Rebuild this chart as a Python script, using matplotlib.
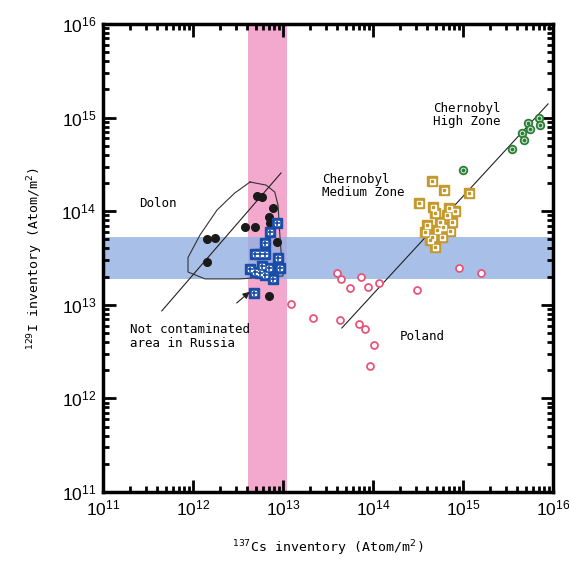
import numpy as np
import matplotlib
matplotlib.use('Agg')
import matplotlib.pyplot as plt
from matplotlib.ticker import LogLocator, NullFormatter

# Dolon (black dots)
dolon_cs = [5.1e12, 5.9e12, 7.8e12, 7.0e12, 7.2e12, 3.75e12, 4.9e12, 1.42e12, 1.77e12, 8.5e12, 1.42e12, 6.9e12]
dolon_i = [1.47e14, 1.41e14, 1.09e14, 8.7e13, 7.5e13, 6.7e13, 6.7e13, 5.0e13, 5.2e13, 4.7e13, 2.9e13, 1.24e13]

# not contaminated area in Russia (blue squares)
russia_cs = [8.5e12, 7.2e12, 6.3e12, 4.9e12, 5.5e12, 6.3e12, 8.9e12, 9.3e12, 5.9e12, 6.9e12,
             4.3e12, 4.9e12, 5.5e12, 6.3e12, 7.8e12, 4.7e12]
russia_i = [7.4e13, 6.0e13, 4.6e13, 3.5e13, 3.5e13, 3.5e13, 3.2e13, 2.5e13, 2.6e13, 2.5e13,
            2.4e13, 2.26e13, 2.17e13, 2.08e13, 1.87e13, 1.33e13]

# Poland (open pink circles)
poland_cs = [1.22e13, 2.17e13, 4.0e13, 4.4e13, 7.4e13, 5.6e13, 8.7e13, 1.17e14, 4.3e13, 6.9e13,
             8.1e13, 1.03e14, 9.3e13, 3.06e14, 9.0e14, 1.58e15]
poland_i = [1.01e13, 7.3e12, 2.17e13, 1.89e13, 2.0e13, 1.51e13, 1.56e13, 1.72e13, 6.8e12, 6.3e12,
            5.5e12, 3.75e12, 2.2e12, 1.44e13, 2.5e13, 2.19e13]

# Chernobyl medium zone (gold squares)
medium_cs = [4.5e14, 6.2e14, 3.24e14, 4.6e14, 6.9e14, 8.1e14, 1.17e15, 4.9e14, 6.6e14, 5.5e14,
             7.5e14, 3.95e14, 6.0e14, 5.1e14, 7.2e14, 3.8e14, 4.5e14, 5.9e14, 4.3e14, 4.9e14]
medium_i = [2.1e14, 1.68e14, 1.21e14, 1.12e14, 1.07e14, 1.01e14, 1.56e14, 9.5e13, 9.1e13, 7.7e13,
            7.7e13, 7.1e13, 6.8e13, 6.3e13, 6.2e13, 6.0e13, 5.3e13, 5.3e13, 4.9e13, 4.1e13]

# Chernobyl high zone (green circles)
high_cs = [7.0e15, 7.2e15, 5.2e15, 5.6e15, 4.5e15, 4.7e15, 3.5e15, 9.9e14]
high_i = [9.8e14, 8.3e14, 8.7e14, 7.6e14, 6.9e14, 5.8e14, 4.6e14, 2.75e14]

# bands, fitted lines, Dolon contour
pink_band = [4.1e12, 1.1e13]
blue_band = [1.9e13, 5.3e13]
line1_cs = [4.5e11, 9.5e12]
line1_i = [8.6e12, 2.56e14]
line2_cs = [4.5e13, 8.8e15]
line2_i = [5.65e12, 1.4e15]
contour_cs = [4.3e12, 6.5e12, 8.1e12, 8.8e12, 9.3e12, 1.0e13, 3.3e12, 1.36e12, 8.8e11, 8.8e11,
              1.2e12, 1.85e12, 2.9e12, 4.3e12]
contour_i = [2.05e14, 1.9e14, 1.6e14, 1.16e14, 4.9e13, 2.03e13, 1.89e13, 1.89e13, 2.24e13, 3.2e13,
             5.6e13, 1.03e14, 1.56e14, 2.05e14]

plt.rcParams['font.family'] = ['Liberation Sans', 'DejaVu Sans']
label_font = 'DejaVu Sans Mono'

fig = plt.figure(figsize=(5.69, 5.62), dpi=100)
ax = fig.add_axes([0.181, 0.1246, 0.791, 0.8327])
ax.set_xscale('log')
ax.set_yscale('log')
ax.set_xlim(1e11, 1e16)
ax.set_ylim(1e11, 1e16)

ax.axvspan(pink_band[0], pink_band[1], color='#f2a9cd', lw=0, zorder=0)
ax.axhspan(blue_band[0], blue_band[1], color='#92b0e2', alpha=0.8, lw=0, zorder=0.5)

ax.plot(contour_cs, contour_i, color='#333333', lw=0.8, zorder=1)
ax.plot(line1_cs, line1_i, color='#222222', lw=0.8, zorder=1)
ax.plot(line2_cs, line2_i, color='#222222', lw=0.8, zorder=1)

# Dolon
ax.plot(dolon_cs, dolon_i, 'o', color='#1a1a1a', ms=5.5, zorder=3)

# Russia: blue window squares
ax.plot(russia_cs, russia_i, 's', color='#1a4da8', ms=6.5, zorder=4)
ax.plot(russia_cs, russia_i, 's', color='white', ms=3.4, zorder=5)
ax.plot(russia_cs, russia_i, '+', color='#1a4da8', ms=3.6, mew=1.2, zorder=6)

# Poland
ax.plot(poland_cs, poland_i, 'o', mfc='white', mec='#e8557a', mew=1.3, ms=5, zorder=3)

# Chernobyl medium
ax.plot(medium_cs, medium_i, 's', color='#c49a2c', ms=6.5, zorder=3)
ax.plot(medium_cs, medium_i, 's', color='white', ms=3.6, zorder=3)
ax.plot(medium_cs, medium_i, 's', color='#c49a2c', ms=1.5, zorder=3)

# Chernobyl high
ax.plot(high_cs, high_i, 'o', mfc='#cfe8cc', mec='#2d7d3a', mew=1.3, ms=5.5, zorder=3)
ax.plot(high_cs, high_i, 'o', color='#2d7d3a', ms=1.6, zorder=3)

# arrow
ax.annotate('', xy=(4.5e12, 1.44e13), xytext=(2.9e12, 1.0e13),
            arrowprops=dict(arrowstyle='-|>', color='#222222', lw=0.8, mutation_scale=10), zorder=6)

tkw = dict(family=label_font, fontsize=9, color='black')
ax.text(2.5e11, 1.22e14, 'Dolon', va='center', ha='left', **tkw)
ax.text(4.6e14, 1.07e15, 'Chernobyl\nHigh Zone', va='center', ha='left', linespacing=1.05, **tkw)
ax.text(2.7e13, 1.86e14, 'Chernobyl\nMedium Zone', va='center', ha='left', linespacing=1.05, **tkw)
ax.text(2.0e14, 4.6e12, 'Poland', va='center', ha='left', **tkw)
ax.text(2.0e11, 4.6e12, 'Not contaminated\narea in Russia', va='center', ha='left', linespacing=1.05, **tkw)

ax.set_xlabel('$^{137}$Cs inventory (Atom/m$^2$)', family=label_font, fontsize=9.5, labelpad=14)
ax.set_ylabel('$^{129}$I inventory (Atom/m$^2$)', family=label_font, fontsize=9.5, labelpad=12)

for a in [ax.xaxis, ax.yaxis]:
    a.set_major_locator(LogLocator(base=10, numticks=10))
    a.set_minor_locator(LogLocator(base=10, subs=np.arange(2, 10), numticks=10))
    a.set_minor_formatter(NullFormatter())
ax.tick_params(which='both', direction='in', top=True, right=True, width=2)
ax.tick_params(which='major', length=9, labelsize=12.5, pad=5)
ax.tick_params(which='minor', length=4)
for s in ax.spines.values():
    s.set_linewidth(2.5)

plt.savefig('out.png', dpi=100)
plt.close(fig)
